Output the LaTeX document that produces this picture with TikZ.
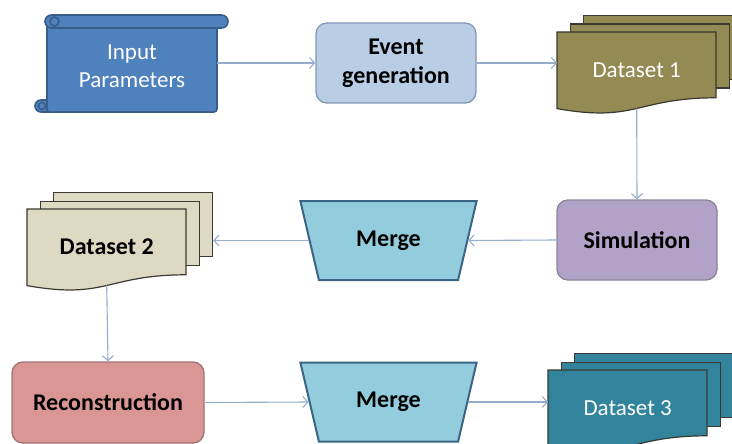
\documentclass[tikz,border=0pt]{standalone}
\usepackage{fontspec}
\setmainfont{Carlito}
\usepackage{tikz}
\usetikzlibrary{shapes,arrows.meta,positioning,calc}

\definecolor{inpfill}{HTML}{4F81BD}
\definecolor{inpline}{HTML}{385D8A}
\definecolor{evfill}{HTML}{B9CDE5}
\definecolor{evline}{HTML}{8397B5}
\definecolor{dsafill}{HTML}{948A54}
\definecolor{dsbfill}{HTML}{DDD9C3}
\definecolor{dscfill}{HTML}{31849B}
\definecolor{dsline}{HTML}{3A3A30}
\definecolor{simfill}{HTML}{B3A2C7}
\definecolor{simline}{HTML}{8A8498}
\definecolor{mrgfill}{HTML}{93CDDD}
\definecolor{mrgline}{HTML}{3A6585}
\definecolor{recfill}{HTML}{D99694}
\definecolor{recline}{HTML}{A07474}
\definecolor{flowc}{HTML}{95ADCB}

\tikzset{
  txt/.style={font=\fontsize{23}{28}\selectfont, align=center, inner sep=0pt},
  boldtxt/.style={txt, font=\fontsize{24}{29}\selectfont\bfseries},
  procbox/.style={boldtxt, draw, line width=1.3pt, rounded corners=11pt},
  merge/.style={boldtxt, trapezium, trapezium stretches=true, shape border rotate=180,
    trapezium angle=66.4, minimum width=177pt, minimum height=79pt,
    draw=mrgline, fill=mrgfill, line width=2pt},
  backpage/.style={draw=dsline, line width=1.2pt, minimum width=159pt, minimum height=64pt,
    anchor=north west, inner sep=0pt},
  frontpage/.style={draw=dsline, line width=1.2pt},
  flow/.style={draw=flowc, line width=1.1pt, -{Straight Barb[length=5pt,width=11pt]}}
}

% stack of three document pages: name, x, y (top left of front page), fill, text style, text
\newcommand\docstack[6]{%
  \node[backpage, fill=#4] (#1c) at (#2+26,#3-17) {};
  \node[backpage, fill=#4] (#1b) at (#2+13,#3-8.5) {};
  \filldraw[frontpage, fill=#4] (#2,#3) -- (#2+159,#3) -- (#2+159,#3+65.8)
    .. controls (#2+79.5,#3+65.8) and (#2+79.5,#3+90.8) .. (#2,#3+76.6) -- cycle;
  \node[#5, minimum width=159pt, minimum height=76pt, anchor=north west] (#1) at (#2,#3) {#6};
}

\begin{document}
\begin{tikzpicture}[x=1pt,y=-1pt]
  \useasboundingbox (0,0) rectangle (732,444);
  \clip (0,0) rectangle (732,444);

  % input scroll
  \begin{scope}[draw=inpline, fill=inpfill, line width=1.6pt]
    \filldraw[rounded corners=6pt] (35,100) rectangle (55,112);
    \filldraw[rounded corners=3pt] (47,20) rectangle (217,112);
    \filldraw (47,100) -- (47,112);
    \filldraw[rounded corners=6.5pt] (45,15) rectangle (228,28);
    \filldraw (54.5,21.5) circle (4.5);
    \filldraw (42,106) circle (3.5);
  \end{scope}
  \node[txt, text=white, minimum width=170pt, minimum height=84pt] (inp) at (132,66) {Input\\Parameters};

  \node[procbox, draw=evline, fill=evfill, minimum width=160pt, minimum height=80pt] (ev) at (396,63) {Event\\generation};

  \docstack{ds1}{557}{32}{dsafill}{txt, text=white}{Dataset 1}

  \node[procbox, draw=simline, fill=simfill, minimum width=160pt, minimum height=80pt] (sim) at (637,240) {Simulation};
  \node[merge] (m1) at (388.5,240.5) {Merge};

  \docstack{ds2}{27}{209}{dsbfill}{boldtxt}{Dataset 2}

  \node[procbox, draw=recline, fill=recfill, minimum width=192pt, minimum height=81pt] (rec) at (108,402.5) {Reconstruction};
  \node[merge] (m2) at (388.5,402) {Merge};

  \docstack{ds3}{548}{370}{dscfill}{txt, text=white}{Dataset 3}

  \draw[flow] (inp.east |- ev.west) -- (ev.west);
  \draw[flow] (ev.east) -- (ev.east -| ds1.west);
  \draw[flow] (ds1.south) -- (sim.north);
  \draw[flow] (sim.west) -- (m1.east);
  \draw[flow] (m1.west) -- (m1.west -| ds2c.east);
  \draw[flow] (ds2.south) -- (rec.north);
  \draw[flow] (rec.east) -- (m2.west);
  \draw[flow] (m2.east) -- (m2.east -| ds3.west);
\end{tikzpicture}
\end{document}
